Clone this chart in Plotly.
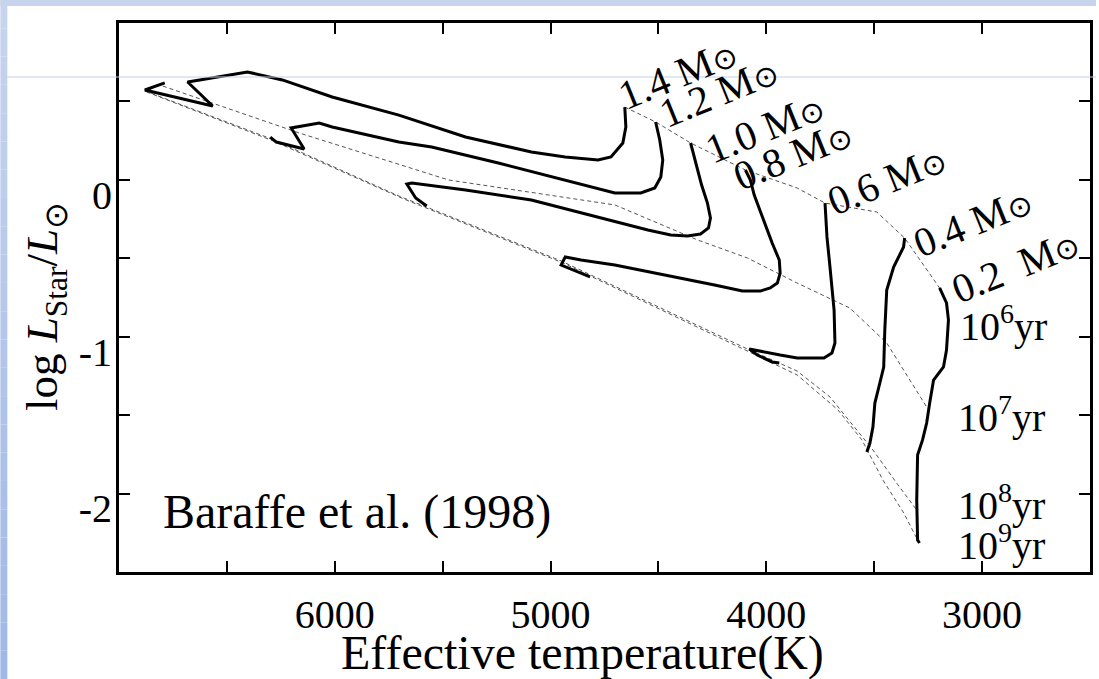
import plotly.graph_objects as go

# ---------------- data (Teff [K], log L/Lsun) ----------------
m14_T = [4656, 4651, 4665, 4720, 4780, 4932, 5089, 5394, 5703, 6012, 6243, 6405, 6626, 6682, 6566, 6880, 6788]
m14_L = [0.464, 0.337, 0.235, 0.146, 0.127, 0.146, 0.178, 0.273, 0.413, 0.528, 0.637, 0.688, 0.637, 0.624, 0.471, 0.573, 0.618]

m12_T = [4513, 4494, 4480, 4489, 4517, 4582, 4702, 4932, 5242, 5551, 5703, 6012, 6072, 6202, 6142, 6271, 6299]
m12_L = [0.369, 0.254, 0.127, 0.018, -0.052, -0.084, -0.084, -0.001, 0.107, 0.209, 0.241, 0.337, 0.362, 0.331, 0.197, 0.241, 0.273]

m10_T = [4351, 4328, 4300, 4273, 4259, 4268, 4305, 4365, 4443, 4549, 4780, 5089, 5394, 5643, 5666, 5625, 5574]
m10_L = [0.235, 0.107, -0.033, -0.148, -0.243, -0.307, -0.345, -0.358, -0.352, -0.320, -0.237, -0.128, -0.065, -0.020, -0.026, -0.116, -0.167]

m08_T = [4097, 4074, 4056, 4009, 3973, 3940, 3936, 3949, 3982, 4028, 4111, 4240, 4471, 4702, 4859, 4932, 4951, 4817]
m08_L = [0.063, -0.001, -0.097, -0.275, -0.403, -0.511, -0.594, -0.658, -0.689, -0.709, -0.709, -0.670, -0.607, -0.543, -0.511, -0.492, -0.543, -0.619]

m06_T = [3728, 3719, 3705, 3686, 3682, 3696, 3733, 3857, 3936, 4009, 4079, 4042, 3973, 3940]
m06_L = [-0.148, -0.364, -0.556, -0.830, -1.040, -1.104, -1.136, -1.136, -1.117, -1.097, -1.078, -1.117, -1.161, -1.168]

m04_T = [3359, 3364, 3410, 3442, 3451, 3456, 3474, 3497, 3506, 3520, 3534]
m04_L = [-0.371, -0.428, -0.556, -0.702, -0.957, -1.193, -1.295, -1.423, -1.576, -1.678, -1.735]

m02_T = [3197, 3165, 3156, 3165, 3179, 3225, 3243, 3257, 3276, 3299, 3303, 3299, 3290]
m02_L = [-0.689, -0.785, -0.893, -1.085, -1.193, -1.276, -1.423, -1.550, -1.658, -1.754, -2.041, -2.296, -2.315]

# isochrones
iso6_T = [4656, 4513, 4351, 4097, 3857, 3728, 3488, 3359, 3197]
iso6_L = [0.464, 0.369, 0.235, 0.063, -0.052, -0.148, -0.205, -0.371, -0.689]

iso7_T = [6797, 6165, 5472, 4702, 4319, 4088, 3857, 3613, 3442, 3257]
iso7_L = [0.598, 0.299, -0.001, -0.160, -0.383, -0.498, -0.658, -0.817, -1.040, -1.448]

iso8_T = [6880, 6294, 5703, 4951, 4088, 3857, 3705, 3590, 3506, 3396, 3303]
iso8_L = [0.567, 0.261, -0.103, -0.517, -1.078, -1.219, -1.384, -1.576, -1.722, -1.933, -2.105]

iso9_T = [6871, 6285, 5680, 4942, 4079, 3857, 3668, 3557, 3460, 3363, 3299]
iso9_L = [0.560, 0.248, -0.122, -0.530, -1.097, -1.244, -1.467, -1.658, -1.913, -2.124, -2.296]

mass_labels = ["1.4 M", "1.2 M", "1.0 M", "0.8 M", "0.6 M", "0.4 M", "0.2  M"]
mass_lab_T = [4410, 4220, 4010, 3880, 3442, 3045, 2845]
mass_lab_L = [0.675, 0.560, 0.331, 0.160, -0.001, -0.269, -0.550]

age_exp = ["6", "7", "8", "9"]
age_lab_T = [2900, 2912, 2912, 2912]
age_lab_L = [-0.913, -1.499, -2.06, -2.315]

x_tickvals = [6500, 6000, 5500, 5000, 4500, 4000, 3500, 3000]
x_ticktext = ["", "6000", "", "5000", "", "4000", "", "3000"]
y_tickvals = [0.5, 0, -0.5, -1, -1.5, -2]
y_labelvals = [0, -1, -2]
y_labeltext = ["0", "-1", "-2"]

# ---------------- figure ----------------
SERIF = "Liberation Serif, Times New Roman, serif"
fig = go.Figure()

for T, L in [(iso6_T, iso6_L), (iso7_T, iso7_L), (iso8_T, iso8_L), (iso9_T, iso9_L)]:
    fig.add_trace(go.Scatter(x=T, y=L, mode="lines",
                             line=dict(color="#555555", width=1, dash="4px,3px"),
                             showlegend=False, hoverinfo="skip"))

for T, L in [(m14_T, m14_L), (m12_T, m12_L), (m10_T, m10_L), (m08_T, m08_L),
             (m06_T, m06_L), (m04_T, m04_L), (m02_T, m02_L)]:
    fig.add_trace(go.Scatter(x=T, y=L, mode="lines",
                             line=dict(color="black", width=3),
                             showlegend=False, hoverinfo="skip"))

# empty trace that carries the label-only y axis
fig.add_trace(go.Scatter(x=[None], y=[None], yaxis="y2", mode="lines",
                         showlegend=False, hoverinfo="skip"))

for lab, T, L in zip(mass_labels, mass_lab_T, mass_lab_L):
    fig.add_annotation(x=T, y=L, text=lab + "<span style='font-size:30px'>⊙</span>",
                       showarrow=False, textangle=-22,
                       xanchor="center", yanchor="middle",
                       font=dict(family=SERIF, size=41, color="black"))

for e, T, L in zip(age_exp, age_lab_T, age_lab_L):
    fig.add_annotation(x=T, y=L, text="10<sup>" + e + "</sup>yr", showarrow=False,
                       xanchor="center", yanchor="middle",
                       font=dict(family=SERIF, size=40, color="black"))

fig.add_annotation(x=5897, y=-2.117, text="Baraffe et al. (1998)", showarrow=False,
                   xanchor="center", yanchor="middle",
                   font=dict(family=SERIF, size=48, color="black"))

fig.add_annotation(xref="paper", yref="paper", x=0.477, y=-0.148,
                   text="Effective temperature(K)", showarrow=False,
                   xanchor="center", yanchor="middle",
                   font=dict(family=SERIF, size=48, color="black"))
fig.add_annotation(xref="paper", yref="paper", x=-0.076, y=0.483,
                   text="log <i>L</i><sub>Star</sub>/<i>L</i><sub>⊙</sub>", showarrow=False,
                   xanchor="center", yanchor="middle",
                   textangle=-90, font=dict(family=SERIF, size=45, color="black"))

# slide-like background decoration
W, H, L0, B0, PW, PH = 1099, 679, 119, 572, 974, 549
def px(x):
    return (x - L0) / PW
def py(y):
    return (B0 - y) / PH
shapes = []
n = 24
for i in range(n):
    y0 = H * i / n
    y1 = H * (i + 1) / n
    t = (i + 0.5) / n
    r = int(200 + (160 - 200) * t)
    g = int(213 + (184 - 213) * t)
    b = int(239 + (231 - 239) * t)
    shapes.append(dict(type="rect", xref="paper", yref="paper", x0=px(0), x1=px(7),
                       y0=py(y1), y1=py(y0), fillcolor=f"rgb({r},{g},{b})",
                       line=dict(width=0), layer="below"))
shapes.append(dict(type="rect", xref="paper", yref="paper", x0=px(0), x1=px(W),
                   y0=py(6), y1=py(0), fillcolor="#c6d4ed", line=dict(width=0), layer="below"))
shapes.append(dict(type="line", xref="paper", yref="paper", x0=px(7), x1=px(W),
                   y0=py(77), y1=py(77), line=dict(color="#c3cfe6", width=1), layer="above"))

Y_LO, Y_HI = -2.5, 1.0
LABEL_DROP = 0.095  # tick labels sit slightly below their ticks in the original

fig.update_layout(
    width=W, height=H,
    margin=dict(l=L0, r=W - L0 - PW, t=B0 - PH, b=H - B0),
    paper_bgcolor="white", plot_bgcolor="white",
    shapes=shapes,
    xaxis=dict(range=[7000, 2500], tickvals=x_tickvals, ticktext=x_ticktext,
               ticks="inside", ticklen=11, tickwidth=2, tickcolor="black",
               showline=True, linewidth=3, linecolor="black", mirror="ticks",
               showgrid=False, zeroline=False, ticklabelstandoff=5,
               tickfont=dict(family=SERIF, size=40, color="black")),
    yaxis=dict(range=[Y_LO, Y_HI], tickvals=y_tickvals, showticklabels=False,
               ticks="inside", ticklen=11, tickwidth=2, tickcolor="black",
               showline=True, linewidth=3, linecolor="black", mirror="ticks",
               showgrid=False, zeroline=False),
    yaxis2=dict(range=[Y_LO + LABEL_DROP, Y_HI + LABEL_DROP], overlaying="y", anchor="x",
                side="left", tickvals=y_labelvals, ticktext=y_labeltext,
                ticks="", showline=False, showgrid=False, zeroline=False,
                ticklabelstandoff=6,
                tickfont=dict(family=SERIF, size=40, color="black")),
)

fig.write_html("out.html")
